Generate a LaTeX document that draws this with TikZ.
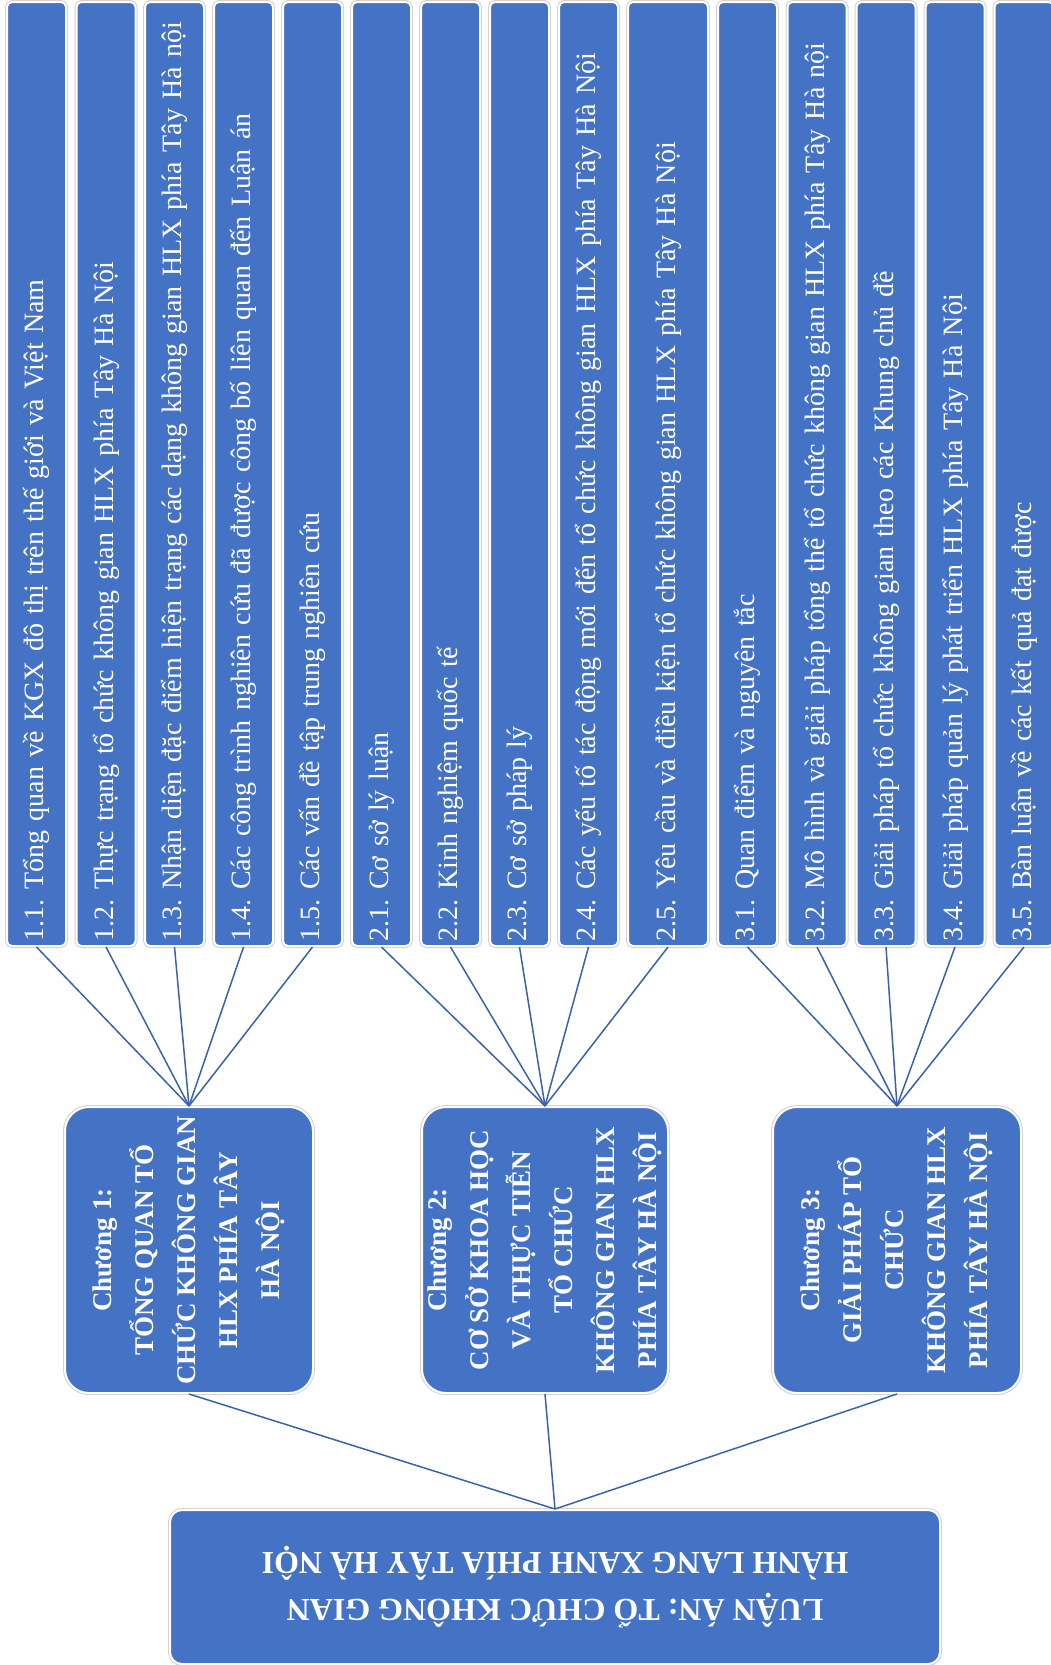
\documentclass[tikz,border=0pt]{standalone}
\usepackage{fontspec}
\setmainfont{Liberation Serif}
\usepackage{tikz}
\definecolor{hlxblue}{HTML}{4472C4}
\definecolor{hlxline}{HTML}{3A62AC}
\frenchspacing

\begin{document}
\begin{tikzpicture}[x=1pt,y=1pt]
\tikzstyle{boxbase} = [fill=hlxblue,draw=white,line width=2,text=white,preaction={draw=black!18,line width=4}];
\tikzstyle{leaf} = [boxbase,rotate=90,rounded corners=5,minimum width=944,minimum height=59,text width=934,align=left,inner xsep=5,font=\fontsize{28}{34}\selectfont];
\tikzstyle{chapter} = [boxbase,rotate=90,rounded corners=24,minimum width=286,minimum height=248,align=center,font=\fontsize{27}{42}\selectfont\bfseries];
\tikzstyle{thesis} = [boxbase,rotate=180,rounded corners=12,minimum width=770,minimum height=154,align=center,font=\fontsize{32}{47}\selectfont\bfseries];
\tikzstyle{link} = [draw=hlxline,line width=1.5];
\useasboundingbox (0,0) rectangle (1051,-1665);

% rotated nodes: west = bottom, east = top (rotate=90); south = top (rotate=180)
\node [thesis] (thesis) at (555,-1587) {LUẬN ÁN: TỔ CHỨC KHÔNG GIAN\\HÀNH LANG XANH PHÍA TÂY HÀ NỘI};

\node [chapter] (c1) at (189,-1250) {Chương 1:\\TỔNG QUAN TỔ\\CHỨC KHÔNG GIAN\\HLX PHÍA TÂY\\HÀ NỘI};
\node [chapter,minimum height=246] (c2) at (545,-1250) {Chương 2:\\CƠ SỞ KHOA HỌC\\VÀ THỰC TIỄN\\TỔ CHỨC\\KHÔNG GIAN HLX\\PHÍA TÂY HÀ NỘI};
\node [chapter] (c3) at (897,-1250) {Chương 3:\\GIẢI PHÁP TỔ\\CHỨC\\KHÔNG GIAN HLX\\PHÍA TÂY HÀ NỘI};

\draw[link] (c1.west) -- (thesis.south);
\draw[link] (c2.west) -- (thesis.south);
\draw[link] (c3.west) -- (thesis.south);

% chuong 1
\node [leaf] (l11) at (36.5,-474) {1.1. Tổng quan về KGX đô thị trên thế giới và Việt Nam};
\node [leaf] (l12) at (106,-474) {1.2. Thực trạng tổ chức không gian HLX phía Tây Hà Nội};
\node [leaf] (l13) at (174.5,-474) {1.3. Nhận diện đặc điểm hiện trạng các dạng không gian HLX phía Tây Hà nội};
\node [leaf] (l14) at (243.5,-474) {1.4. Các công trình nghiên cứu đã được công bố liên quan đến Luận án};
\node [leaf] (l15) at (312.5,-474) {1.5. Các vấn đề tập trung nghiên cứu};
\draw[link] (l11.west) -- (c1.east);
\draw[link] (l12.west) -- (c1.east);
\draw[link] (l13.west) -- (c1.east);
\draw[link] (l14.west) -- (c1.east);
\draw[link] (l15.west) -- (c1.east);

% chuong 2
\node [leaf] (l21) at (381.5,-474) {2.1. Cơ sở lý luận};
\node [leaf] (l22) at (450.5,-474) {2.2. Kinh nghiệm quốc tế};
\node [leaf] (l23) at (519.5,-474) {2.3. Cơ sở pháp lý};
\node [leaf] (l24) at (588.5,-474) {2.4. Các yếu tố tác động mới đến tổ chức không gian HLX phía Tây Hà Nội};
\node [leaf,minimum height=80] (l25) at (668,-474) {2.5. Yêu cầu và điều kiện tổ chức không gian HLX phía Tây Hà Nội};
\draw[link] (l21.west) -- (c2.east);
\draw[link] (l22.west) -- (c2.east);
\draw[link] (l23.west) -- (c2.east);
\draw[link] (l24.west) -- (c2.east);
\draw[link] (l25.west) -- (c2.east);

% chuong 3
\node [leaf] (l31) at (747.5,-474) {3.1. Quan điểm và nguyên tắc};
\node [leaf] (l32) at (817,-474) {3.2. Mô hình và giải pháp tổng thể tổ chức không gian HLX phía Tây Hà nội};
\node [leaf] (l33) at (886,-474) {3.3. Giải pháp tổ chức không gian theo các Khung chủ đề};
\node [leaf] (l34) at (955,-474) {3.4. Giải pháp quản lý phát triển HLX phía Tây Hà Nội};
\node [leaf] (l35) at (1024,-474) {3.5. Bàn luận về các kết quả đạt được};
\draw[link] (l31.west) -- (c3.east);
\draw[link] (l32.west) -- (c3.east);
\draw[link] (l33.west) -- (c3.east);
\draw[link] (l34.west) -- (c3.east);
\draw[link] (l35.west) -- (c3.east);

\end{tikzpicture}
\end{document}
